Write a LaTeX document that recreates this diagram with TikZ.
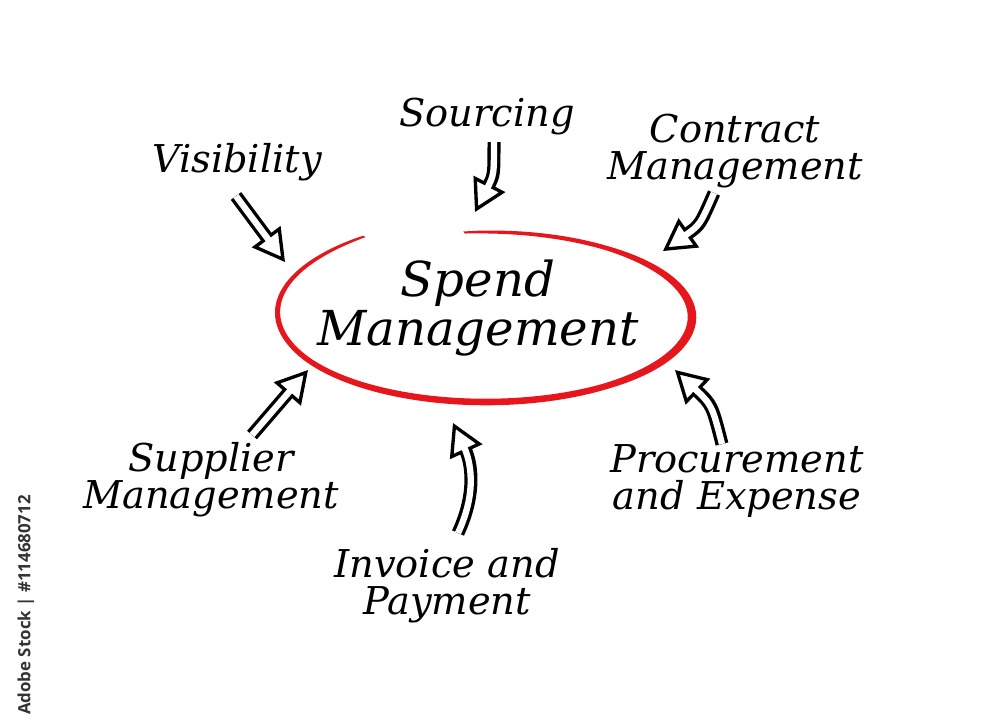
\documentclass[tikz,border=0pt]{standalone}
\usepackage{fontspec}
\setmainfont{DejaVu Serif}
\newfontfamily\stockfont{Open Sans}
\usepackage{xcolor}
\usepackage{tikz}
\usetikzlibrary{arrows.meta}
\definecolor{spendred}{RGB}{230,22,28}
\tikzset{
  topic/.style={font=\itshape\fontsize{10.9}{10.6}\selectfont, align=center, inner sep=1pt},
  hub/.style={font=\itshape\fontsize{13.7}{12.3}\selectfont, align=center, inner sep=1pt},
  arrowrim/.style={black, line width=3.7pt, shorten >=8.6pt},
  arrowhead/.style={black, line width=0.95pt, -{Triangle[length=9pt,width=10pt,fill=white]}},
  arrowcore/.style={white, line width=1.8pt, shorten >=7.4pt},
  declare function={
    ang(\t)=97-336*\t;
    sc(\t)=1+0.12*(max(0,(\t-0.75)/0.25))^2;
    wd(\t)=1.6+5*sqrt(abs(sin(180*\t)))+2.5*max(0,1-((\t-0.29)/0.16)^2);
  }
}
\newcommand{\hollowarrow}[1]{%
  \draw[arrowrim] #1;
  \draw[arrowhead] #1;
  \draw[arrowcore] #1;}

\begin{document}
\begin{tikzpicture}[x=0.01cm, y=-0.01cm]
\useasboundingbox[fill=white] (0,0) rectangle (1000,726);
\fill[spendred] plot[domain=0.002:0.998, samples=160, smooth, variable=\u]
  ({486+(206*sc(\u)+wd(\u)/2)*cos(ang(\u))}, {317-(85*sc(\u)+wd(\u)/2)*sin(ang(\u))})
  -- plot[domain=0.998:0.002, samples=160, smooth, variable=\u]
  ({486+(206*sc(\u)-wd(\u)/2)*cos(ang(\u))}, {317-(85*sc(\u)-wd(\u)/2)*sin(ang(\u))}) -- cycle;
\node[hub] (spend) at (478,308) {Spend\\Management};
\node[topic] (vis) at (237,162) {Visibility};
\node[topic] (src) at (487,117) {Sourcing};
\node[topic] (con) at (735,151) {Contract\\Management};
\node[topic] (sup) at (211,480) {Supplier\\Management};
\node[topic] (inv) at (447,586) {Invoice and\\Payment};
\node[topic] (pro) at (737,481) {Procurement\\and Expense};
\coordinate (vis-tail) at (236,196);
\coordinate (vis-tip) at (285,262);
\coordinate (src-tail) at (494,142);
\coordinate (src-tip) at (475,212);
\coordinate (con-tail) at (714,193);
\coordinate (con-tip) at (663,251);
\coordinate (sup-tail) at (252,435);
\coordinate (sup-tip) at (308,370);
\coordinate (inv-tail) at (458,533);
\coordinate (inv-tip) at (453,423);
\coordinate (pro-tail) at (722,444);
\coordinate (pro-tip) at (675,370);
\hollowarrow{(vis-tail) -- (vis-tip)}
\hollowarrow{(src-tail) .. controls (494,175) .. (src-tip)}
\hollowarrow{(con-tail) .. controls (700,225) .. (con-tip)}
\hollowarrow{(sup-tail) -- (sup-tip)}
\hollowarrow{(inv-tail) .. controls (478,490) and (470,460) .. (inv-tip)}
\hollowarrow{(pro-tail) .. controls (712,405) .. (pro-tip)}
\node[rotate=90, font=\stockfont\bfseries\fontsize{4.8}{5}\selectfont, text=black!80] (stock) at (26,605) {Adobe Stock | \#114680712};
\end{tikzpicture}
\end{document}
